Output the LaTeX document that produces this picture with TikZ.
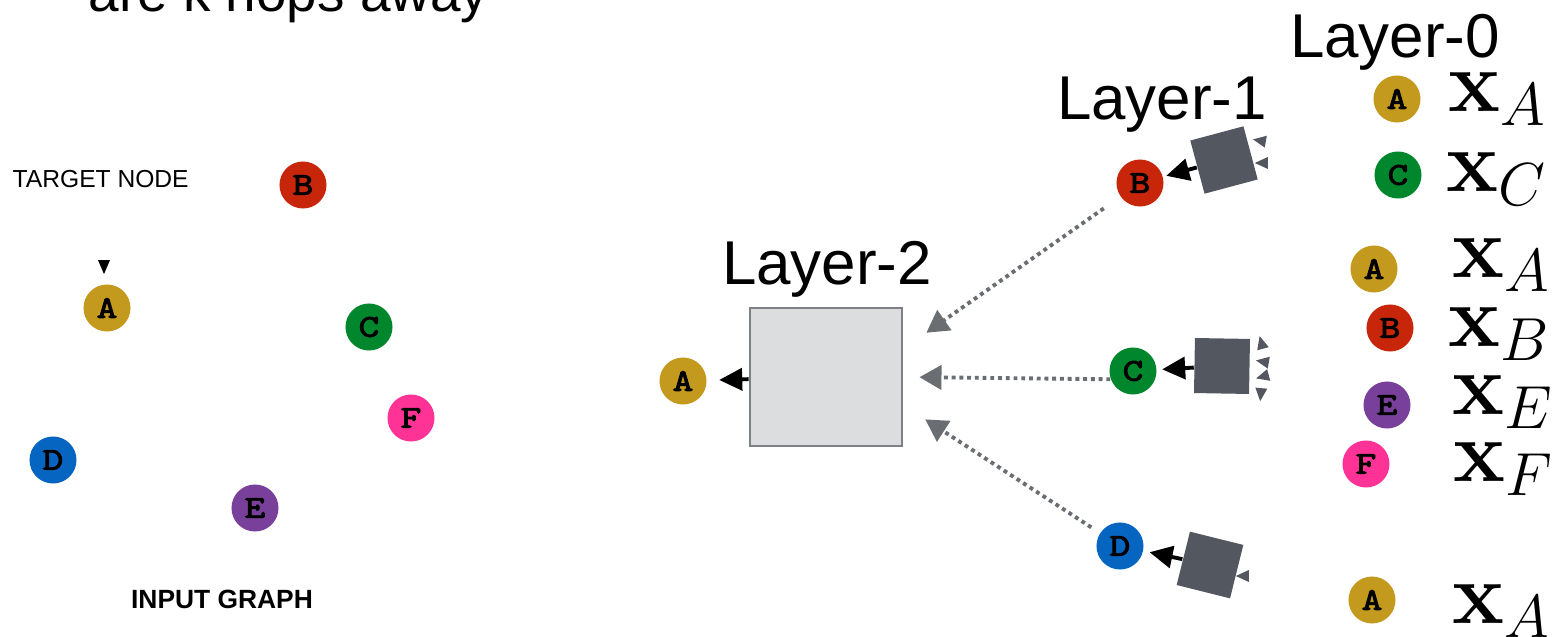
\documentclass[tikz,border=0pt]{standalone}
\usepackage{amsmath}
\usepackage[no-math]{fontspec}
\setmainfont{Liberation Sans}
\newfontfamily\vtxfont{lmmono10-regular.otf}[FakeBold=3, FakeStretch=1.25]
\usetikzlibrary{arrows.meta, positioning, shapes.geometric}
\definecolor{nodeA}{HTML}{C49A1E}
\definecolor{nodeB}{HTML}{C8260B}
\definecolor{nodeC}{HTML}{00872D}
\definecolor{nodeD}{HTML}{0565C0}
\definecolor{nodeE}{HTML}{78409A}
\definecolor{nodeF}{HTML}{FF3395}
\definecolor{aggGray}{HTML}{53575F}
\definecolor{boxFill}{HTML}{DCDDDF}
\definecolor{boxLine}{HTML}{7D8086}
\definecolor{msgGray}{HTML}{6A6D72}

\begin{document}
\begin{tikzpicture}[
  x=0.01cm, y=-0.01cm,
  vtx/.style={circle, inner sep=0pt, minimum size=0.47cm,
              font=\vtxfont\fontsize{9}{9}\selectfont},
  agg/.style={rectangle, fill=aggGray, inner sep=0pt, minimum size=0.55cm},
  intip/.style={isosceles triangle, isosceles triangle stretches, fill=aggGray,
                inner sep=0pt, minimum height=0.13cm, minimum width=0.12cm},
  layer/.style={anchor=base, inner sep=0pt, font=\fontsize{17.6}{20}\selectfont},
  feat/.style={anchor=base west, inner sep=0pt, font=\fontsize{24}{28}\selectfont},
  a/.style={-{Triangle[length=2.3mm, width=2.2mm]}, line width=1.1pt},
  msg/.style={-{Triangle[length=2.2mm, width=2.4mm]}, draw=msgGray, line width=1.1pt,
              dash pattern=on 1.1pt off 1.1pt}
]
\useasboundingbox (0,0) rectangle (1553,637);

\node[anchor=base west, inner sep=0pt, font=\fontsize{15.6}{19}\selectfont] (title) at (88,12) {are k hops away};

\node[anchor=base west, inner sep=0pt, font=\fontsize{7}{8}\selectfont] (tgtlbl) at (12,188) {TARGET NODE};
\node[intip, fill=black, minimum height=0.14cm, minimum width=0.12cm, rotate=-90] (tgtmark) at (104,264) {};
\node[vtx, fill=nodeB] (gB) at (303,185) {B};
\node[vtx, fill=nodeA] (gA) at (107,308) {A};
\node[vtx, fill=nodeC] (gC) at (369,327) {C};
\node[vtx, fill=nodeF] (gF) at (411,418) {F};
\node[vtx, fill=nodeD] (gD) at (53,460) {D};
\node[vtx, fill=nodeE] (gE) at (255,508) {E};
\node[anchor=base, inner sep=0pt, font=\bfseries\fontsize{7.5}{9}\selectfont] (inlbl) at (222,609) {INPUT GRAPH};

\node[vtx, fill=nodeA] (l2A) at (683,381) {A};
\node[draw=boxLine, fill=boxFill, line width=0.8pt, minimum width=1.52cm, minimum height=1.38cm] (l2box) at (826,377) {};
\node[layer] (l2lbl) at (827,285) {Layer-2};
\draw[a, shorten >=1.2mm] (l2box) -- (l2A);

\node[layer] (l1lbl) at (1162,120) {Layer-1};
\node[vtx, fill=nodeB] (l1B) at (1140,183) {B};
\node[vtx, fill=nodeC] (l1C) at (1133,371) {C};
\node[vtx, fill=nodeD] (l1D) at (1120,546) {D};
\node[agg, rotate=15] (aggB) at (1224,160) {};
\node[agg, rotate=-1] (aggC) at (1222,366) {};
\node[agg, rotate=-14] (aggD) at (1210,565) {};
\draw[a, shorten >=0.3mm] (aggB) -- (l1B);
\draw[a, shorten >=0.5mm] (aggC) -- (l1C);
\draw[a, shorten >=0.6mm] (aggD) -- (l1D);

\node[intip, rotate=170] (tB1) at (1262,141) {};
\node[intip, rotate=180] (tB2) at (1264,163) {};
\node[intip, rotate=105] (tC1) at (1262,345) {};
\node[intip, rotate=170] (tC2) at (1265,362) {};
\node[intip, rotate=195] (tC3) at (1265,376) {};
\node[intip, rotate=265] (tC4) at (1261,392) {};
\node[intip, rotate=180] (tD1) at (1245,576) {};

\draw[msg, shorten <=2mm, shorten >=2.8mm] (l1B) -- (l2box.20);
\draw[msg, shorten >=1.6mm] (l1C.200) -- (l2box.east);
\draw[msg, shorten <=1mm, shorten >=2.6mm] (l1D) -- (l2box.-20);

\node[layer] (l0lbl) at (1395,58) {Layer-0};
\node[vtx, fill=nodeA] (l0A1) at (1397,99) {A};
\node[vtx, fill=nodeC] (l0C) at (1398,175) {C};
\node[vtx, fill=nodeA] (l0A2) at (1374,269) {A};
\node[vtx, fill=nodeB] (l0B) at (1390,328) {B};
\node[vtx, fill=nodeE] (l0E) at (1387,405) {E};
\node[vtx, fill=nodeF] (l0F) at (1366,464) {F};
\node[vtx, fill=nodeA] (l0A3) at (1372,600) {A};
\node[feat] (xA1) at (1448,112) {$\mathbf{x}_A$};
\node[feat] (xC) at (1446,192) {$\mathbf{x}_C$};
\node[feat] (xA2) at (1452,278) {$\mathbf{x}_A$};
\node[feat] (xB) at (1448,347) {$\mathbf{x}_B$};
\node[feat] (xE) at (1452,415) {$\mathbf{x}_E$};
\node[feat] (xF) at (1453,482) {$\mathbf{x}_F$};
\node[feat] (xA3) at (1452,624) {$\mathbf{x}_A$};
\end{tikzpicture}
\end{document}
